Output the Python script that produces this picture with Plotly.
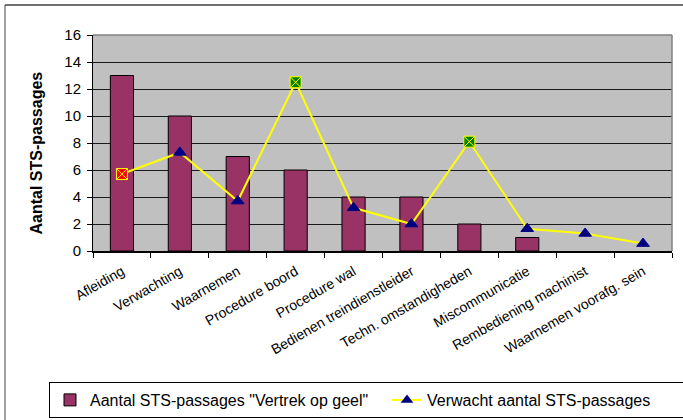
import plotly.graph_objects as go

# Categories of STS-passage causes
categories = [
    "Afleiding", "Verwachting", "Waarnemen", "Procedure boord", "Procedure wal",
    "Bedienen treindienstleider", "Techn. omstandigheden", "Miscommunicatie",
    "Rembediening machinist", "Waarnemen voorafg. sein",
]
# Observed counts ("Vertrek op geel")
observed = [13, 10, 7, 6, 4, 4, 2, 1, 0, 0]
# Expected counts
expected = [5.7, 7.3, 3.7, 12.5, 3.2, 2.0, 8.1, 1.65, 1.3, 0.55]
# Points flagged as over (red) / under (green) expectation
flag_colors = {0: "#FF0000", 3: "#008000", 6: "#008000"}

y_ticks = [0, 2, 4, 6, 8, 10, 12, 14, 16]

FONT = "Liberation Sans, Arial, sans-serif"
W, H = 683, 420
L, R, T, B = 93, 11, 35, 169
pw, ph = W - L - R, H - T - B


def px_x(p):
    return (p - L) / pw


def px_y(p):
    return (H - B - p) / ph


symbols = ["square-x" if i in flag_colors else "triangle-up" for i in range(len(categories))]
colors = [flag_colors.get(i, "#000080") for i in range(len(categories))]
line_colors = ["#FFFF00" if i in flag_colors else "#000080" for i in range(len(categories))]
# empty bars get no outline
bar_outline = [1 if v > 0 else 0 for v in observed]

fig = go.Figure()
fig.add_trace(go.Bar(
    x=categories, y=observed, name='Aantal STS-passages "Vertrek op geel"',
    marker=dict(color="#993366", line=dict(color="#000000", width=bar_outline)),
    width=0.4,
))
fig.add_trace(go.Scatter(
    x=categories, y=expected, mode="lines+markers", showlegend=False,
    line=dict(color="#FFFF00", width=2),
    marker=dict(symbol=symbols, color=colors, size=11,
                line=dict(color=line_colors, width=1)),
))
# legend entry for the expected series
fig.add_trace(go.Scatter(
    x=[None], y=[None], mode="lines+markers", name="Verwacht aantal STS-passages",
    line=dict(color="#FFFF00", width=2),
    marker=dict(symbol="triangle-up", color="#000080", size=11),
))

fig.update_layout(
    width=W, height=H,
    margin=dict(l=L, r=R, t=T, b=B, autoexpand=False),
    paper_bgcolor="#FFFFFF",
    plot_bgcolor="#C0C0C0",
    font=dict(family=FONT, color="#000000"),
    legend=dict(
        orientation="h", x=px_x(49), y=px_y(382), xanchor="left", yanchor="top",
        font=dict(size=16, family=FONT), bordercolor="#000000", borderwidth=1,
        bgcolor="#FFFFFF", traceorder="normal", entrywidth=292,
    ),
    xaxis=dict(
        type="category", tickangle=-30, tickfont=dict(size=14, family=FONT),
        ticks="outside", tickson="boundaries", ticklen=5, tickcolor="#000000",
        ticklabelstandoff=5,
        showline=True, linecolor="#000000", linewidth=2, showgrid=False,
        range=[-0.5, len(categories) - 0.5], automargin=False,
    ),
    yaxis=dict(
        range=[0, 16], tickvals=y_ticks, tickfont=dict(size=15, family=FONT),
        ticks="outside", ticklen=5, tickcolor="#000000", ticklabelstandoff=3,
        showline=True, linecolor="#000000", linewidth=1, automargin=False,
        showgrid=True, gridcolor="#1A1A1A", gridwidth=1, zeroline=False,
    ),
    annotations=[
        dict(text="<b>Aantal STS-passages</b>", textangle=-90, showarrow=False,
             xref="paper", yref="paper", x=px_x(35.5), y=px_y(153),
             xanchor="center", yanchor="middle",
             font=dict(size=16, family=FONT, color="#000000")),
    ],
    shapes=[
        # plot-area frame (top and right)
        dict(type="line", xref="paper", yref="paper", x0=0, x1=1, y0=1, y1=1,
             line=dict(color="#808080", width=1.5)),
        dict(type="line", xref="paper", yref="paper", x0=1, x1=1, y0=0, y1=1,
             line=dict(color="#808080", width=1.5)),
        # outer chart border
        dict(type="line", xref="paper", yref="paper", x0=px_x(5), x1=px_x(W + 5),
             y0=px_y(5), y1=px_y(5), line=dict(color="#707070", width=2)),
        dict(type="line", xref="paper", yref="paper", x0=px_x(5), x1=px_x(5),
             y0=px_y(5), y1=px_y(H + 5), line=dict(color="#404040", width=1)),
    ],
)

fig.write_html("out.html")
